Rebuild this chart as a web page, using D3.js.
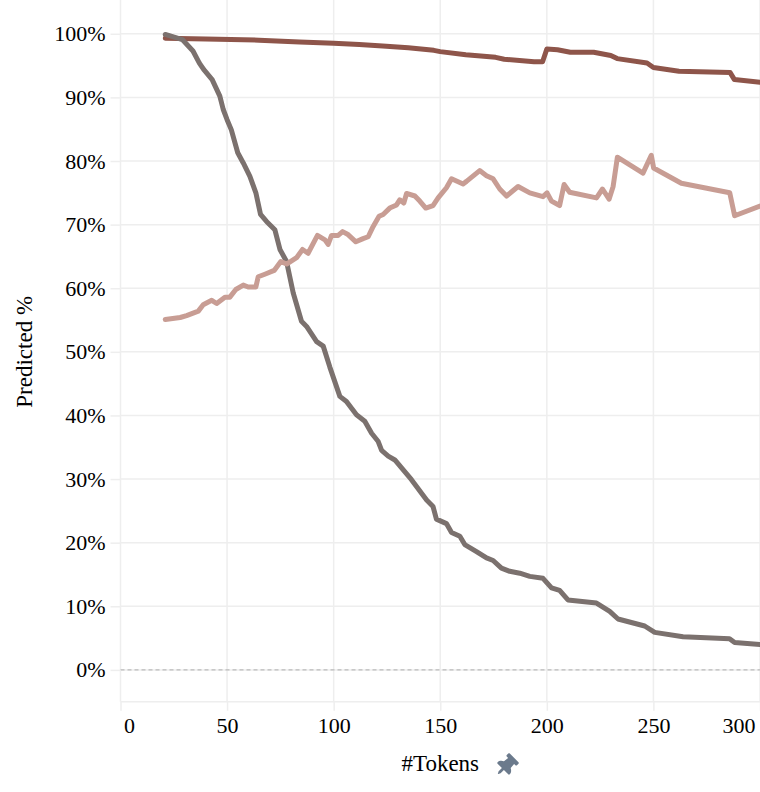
<!DOCTYPE html>
<html>
<head>
<meta charset="utf-8">
<script src="https://cdn.jsdelivr.net/npm/d3@7"></script>
<style>
  body { margin: 0; background: #fff; }
  svg { display: block; font-family: "Liberation Serif", "DejaVu Serif", serif; }
</style>
</head>
<body>
<div id="chart"></div>
<script>
// token counts and predicted share
var topTokens = [21, 40, 65, 84, 100, 112, 123, 135, 147, 150, 162, 176, 180, 194, 198, 200, 205, 211, 222, 230, 233, 247, 250, 262, 286, 288, 300];
var topValues = [0.993, 0.992, 0.990, 0.987, 0.985, 0.983, 0.981, 0.978, 0.974, 0.972, 0.967, 0.963, 0.960, 0.956, 0.956, 0.976, 0.975, 0.971, 0.971, 0.966, 0.961, 0.954, 0.947, 0.941, 0.939, 0.928, 0.924];

var grayTokens = [21, 29, 34, 37, 39, 43, 46.6, 48.2, 50, 52, 55, 57.6, 60.7, 63.5, 65.7, 68.5, 72.4, 74.8, 77.9, 81, 84.9, 87.3, 92, 95.1, 98.2, 102.9, 106, 110.7, 114.6, 117.8, 120.9, 122.5, 125.6, 128.7, 136.5, 143.6, 146.6, 148.2, 152.9, 155.3, 159.2, 161.5, 167, 171.7, 174.8, 178.7, 182.6, 187.3, 192, 198.2, 202.2, 206, 209.9, 223.3, 229.5, 233.4, 245.9, 250.6, 263.9, 285.7, 288.1, 300];
var grayValues = [0.999, 0.991, 0.973, 0.954, 0.944, 0.928, 0.902, 0.881, 0.865, 0.849, 0.813, 0.797, 0.776, 0.750, 0.716, 0.705, 0.692, 0.661, 0.642, 0.593, 0.548, 0.540, 0.516, 0.509, 0.476, 0.430, 0.422, 0.401, 0.391, 0.372, 0.359, 0.345, 0.336, 0.330, 0.299, 0.267, 0.257, 0.237, 0.230, 0.216, 0.210, 0.197, 0.186, 0.176, 0.172, 0.160, 0.155, 0.152, 0.147, 0.144, 0.129, 0.125, 0.110, 0.105, 0.092, 0.080, 0.069, 0.059, 0.052, 0.049, 0.043, 0.040];

var pinkTokens = [21, 28, 31, 36.5, 38.8, 42.8, 45.1, 49, 51.3, 54.1, 57.6, 59.9, 63.5, 64.6, 67.7, 72.1, 75.2, 77.9, 82.6, 85.4, 88, 92.4, 95.9, 97.4, 99, 102.1, 104.2, 106.5, 110.4, 113.8, 116.2, 118.2, 121.3, 123.2, 126.3, 129.5, 131, 132.9, 134.2, 138.1, 140.4, 143.2, 146.6, 149, 152.9, 155.3, 160.7, 162.3, 168.5, 171.7, 174.8, 177.9, 181.1, 186.5, 192, 198.2, 200.1, 202.2, 206, 208.1, 210.7, 223.3, 226.1, 229.2, 231.1, 233.1, 245.1, 249, 250.1, 263.1, 285.8, 288.1, 300];
var pinkValues = [0.551, 0.554, 0.557, 0.564, 0.574, 0.581, 0.576, 0.586, 0.586, 0.598, 0.605, 0.602, 0.602, 0.618, 0.622, 0.628, 0.642, 0.638, 0.648, 0.661, 0.655, 0.683, 0.676, 0.669, 0.683, 0.683, 0.689, 0.685, 0.673, 0.678, 0.681, 0.695, 0.713, 0.716, 0.726, 0.731, 0.739, 0.734, 0.749, 0.745, 0.737, 0.726, 0.730, 0.742, 0.758, 0.772, 0.764, 0.768, 0.785, 0.777, 0.772, 0.756, 0.745, 0.760, 0.750, 0.744, 0.750, 0.737, 0.730, 0.763, 0.751, 0.742, 0.756, 0.740, 0.760, 0.806, 0.781, 0.809, 0.789, 0.765, 0.750, 0.714, 0.729];

var yTicks = [0, 0.1, 0.2, 0.3, 0.4, 0.5, 0.6, 0.7, 0.8, 0.9, 1];
var xTicks = [0, 50, 100, 150, 200, 250, 300];

var series = [
  { name: "top", tokens: topTokens, values: topValues, color: "#8e554a" },
  { name: "gray", tokens: grayTokens, values: grayValues, color: "#7b716e" },
  { name: "pink", tokens: pinkTokens, values: pinkValues, color: "#c89d94" }
];

var W = 760, H = 792;
var plotLeft = 120.5, plotRight = 760, plotTop = 2, plotBottom = 701.7;

var x = d3.scaleLinear().domain([0, 300]).range([plotLeft, plotRight]);
var y = d3.scaleLinear().domain([-0.05, 1.05]).range([plotBottom, plotTop]);

var svg = d3.select("#chart").append("svg")
  .attr("width", W)
  .attr("height", H);

var gridColor = "#eeeeee";

// grid
svg.append("g")
  .selectAll("line")
  .data(xTicks)
  .enter()
    .append("line")
    .attr("x1", function (d) { return x(d); })
    .attr("x2", function (d) { return x(d); })
    .attr("y1", 0)
    .attr("y2", plotBottom)
    .attr("stroke", gridColor)
    .attr("stroke-width", 1.5);

svg.append("g")
  .selectAll("line")
  .data(yTicks)
  .enter()
    .append("line")
    .attr("x1", plotLeft)
    .attr("x2", plotRight)
    .attr("y1", function (d) { return y(d); })
    .attr("y2", function (d) { return y(d); })
    .attr("stroke", gridColor)
    .attr("stroke-width", 1.5);

svg.append("line")
  .attr("x1", plotLeft).attr("x2", plotRight)
  .attr("y1", plotBottom).attr("y2", plotBottom)
  .attr("stroke", gridColor)
  .attr("stroke-width", 1.5);

// zero rule
svg.append("line")
  .attr("x1", plotLeft).attr("x2", plotRight)
  .attr("y1", y(0)).attr("y2", y(0))
  .attr("stroke", "#bbbbbb")
  .attr("stroke-width", 1.2)
  .attr("stroke-dasharray", "4,3");

// axes
var yAxis = svg.append("g")
  .attr("transform", "translate(" + plotLeft + ",0)")
  .call(d3.axisLeft(y).tickValues(yTicks).tickFormat(d3.format(".0%")).tickSize(10).tickPadding(5));

var xAxis = svg.append("g")
  .attr("transform", "translate(0," + plotBottom + ")")
  .call(d3.axisBottom(x).tickValues(xTicks).tickSize(9).tickPadding(7));

[yAxis, xAxis].forEach(function (g) {
  g.select(".domain").remove();
  g.selectAll(".tick line").attr("stroke", gridColor).attr("stroke-width", 1.5);
  g.selectAll(".tick text")
    .attr("fill", "#000")
    .style("font-size", "22px")
    .style("font-family", "Liberation Serif, DejaVu Serif, serif");
});

// flush first / last x labels
xAxis.selectAll(".tick text")
  .attr("text-anchor", function (d, i) {
    if (i === 0) return "start";
    if (i === xTicks.length - 1) return "end";
    return "middle";
  })
  .attr("dx", function (d, i) {
    if (i === 0) return 3;
    if (i === xTicks.length - 1) return -5;
    return 0;
  });

// lines
svg.append("clipPath").attr("id", "plotclip")
  .append("rect")
  .attr("x", plotLeft).attr("y", 0)
  .attr("width", plotRight - plotLeft).attr("height", plotBottom);

var line = d3.line()
  .x(function (d) { return x(d[0]); })
  .y(function (d) { return y(d[1]); });

svg.append("g")
  .attr("clip-path", "url(#plotclip)")
  .selectAll("path")
  .data(series)
  .enter()
    .append("path")
    .attr("d", function (s) { return line(d3.zip(s.tokens, s.values)); })
    .attr("fill", "none")
    .attr("stroke", function (s) { return s.color; })
    .attr("stroke-width", 5)
    .attr("stroke-linejoin", "round")
    .attr("stroke-linecap", "round");

// titles
svg.append("text")
  .attr("transform", "translate(32," + ((plotTop + plotBottom) / 2) + ") rotate(-90)")
  .attr("text-anchor", "middle")
  .style("font-size", "23px")
  .text("Predicted %");

svg.append("text")
  .attr("x", (plotLeft + plotRight) / 2)
  .attr("y", 771)
  .attr("text-anchor", "middle")
  .style("font-size", "23px")
  .text("#Tokens");

// pin icon next to the x title
svg.append("path")
  .attr("d", "M298 214L286 96H328c13 0 24-11 24-24V24c0-13-11-24-24-24H56C43 0 32 11 32 24v48c0 13 11 24 24 24h42L86 214C37 237 0 277 0 328c0 13 11 24 24 24h136v104l24 48c3 6 11 6 14 0l24-48V352h136c13 0 24-11 24-24 0-51-38-91-86-114z")
  .attr("fill", "#6b7a8c")
  .attr("transform", "translate(506,766) rotate(45) scale(0.045) translate(-192,-256)");
</script>
</body>
</html>
